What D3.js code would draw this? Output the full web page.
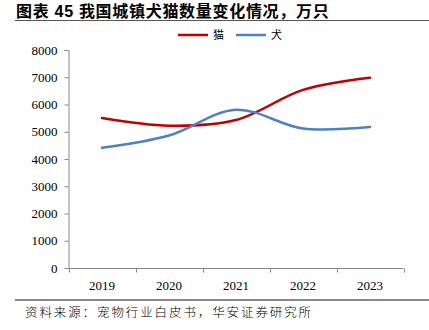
<!DOCTYPE html>
<html><head><meta charset="utf-8">
<script src="https://cdn.jsdelivr.net/npm/d3@7"></script>
<style>body{margin:0;background:#fff}svg{display:block}</style>
</head><body>
<svg id="c" width="429" height="330"></svg>
<script>
const years = ["2019","2020","2021","2022","2023"];
const catValues = [5503, 5222, 5429, 6536, 6980];
const dogValues = [4412, 4862, 5806, 5119, 5175];
const yTicks = [0,1000,2000,3000,4000,5000,6000,7000,8000];
const seriesNames = ["猫","犬"];
const seriesColors = ["#C00000","#4F81BD"];

const svg = d3.select("#c");
const serif = "'Liberation Serif','Times New Roman',serif";
const cjk = "'Noto Sans CJK SC',sans-serif";

// title
svg.append("text").attr("x",16).attr("y",17).attr("font-family","'Liberation Sans','Noto Sans CJK SC',sans-serif")
  .attr("font-weight","bold").attr("font-size",16).attr("letter-spacing",0.7).attr("fill","#000")
  .text("图表 45 我国城镇犬猫数量变化情况，万只");
svg.append("line").attr("x1",15).attr("x2",429).attr("y1",20.5).attr("y2",20.5).attr("stroke","#555").attr("stroke-width",1);

const x = d3.scaleBand().domain(years).range([68.5,403.5]);
const y = d3.scaleLinear().domain([0,8000]).range([268,50]);

const axisColor = "#868686";
// y axis
const ya = svg.append("g").attr("transform","translate(68.5,0)")
  .call(d3.axisLeft(y).tickValues(yTicks).tickSize(4).tickPadding(7).tickFormat(d3.format("d")));
ya.select(".domain").attr("stroke",axisColor);
ya.selectAll(".tick line").attr("stroke",axisColor);
ya.selectAll("text").attr("font-family",serif).attr("font-size",13).attr("fill","#000");

// x axis
const xa = svg.append("g").attr("transform","translate(0,268.5)")
  .call(d3.axisBottom(x).tickSize(0).tickPadding(12));
xa.select(".domain").attr("stroke",axisColor).attr("d","M68.5,0H403.5");
xa.selectAll("text").attr("font-family",serif).attr("font-size",13).attr("fill","#000");
const bounds = years.map(d=>x(d)).concat([x(years[years.length-1])+x.bandwidth()]);
xa.selectAll(".bt").data(bounds).enter().append("line").attr("class","bt")
  .attr("x1",d=>Math.round(d)+0.5).attr("x2",d=>Math.round(d)+0.5).attr("y1",0).attr("y2",4).attr("stroke",axisColor);

const line = d3.line().x((d,i)=>x(years[i])+x.bandwidth()/2).y(d=>y(d)).curve(d3.curveCatmullRom.alpha(0.5));
[catValues, dogValues].forEach((vals,i)=>{
  svg.append("path").attr("d",line(vals)).attr("fill","none").attr("stroke",seriesColors[i])
    .attr("stroke-width",2.5).attr("stroke-linecap","round");
});

// legend
const lg = [{x:178},{x:236}];
seriesNames.forEach((n,i)=>{
  svg.append("line").attr("x1",lg[i].x).attr("x2",lg[i].x+30).attr("y1",35).attr("y2",35)
    .attr("stroke",seriesColors[i]).attr("stroke-width",2.5);
  svg.append("text").attr("x",lg[i].x+35).attr("y",39).attr("font-family",cjk).attr("font-size",11)
    .attr("fill","#000").text(n);
});

// footer
svg.append("line").attr("x1",15).attr("x2",429).attr("y1",300).attr("y2",300).attr("stroke","#888").attr("stroke-width",2);
svg.append("text").attr("x",25).attr("y",317).attr("font-family",cjk).attr("font-size",12.5).attr("font-weight",300)
  .attr("letter-spacing",1.9).attr("fill","#000").text("资料来源：宠物行业白皮书，华安证券研究所");
</script>
</body></html>
